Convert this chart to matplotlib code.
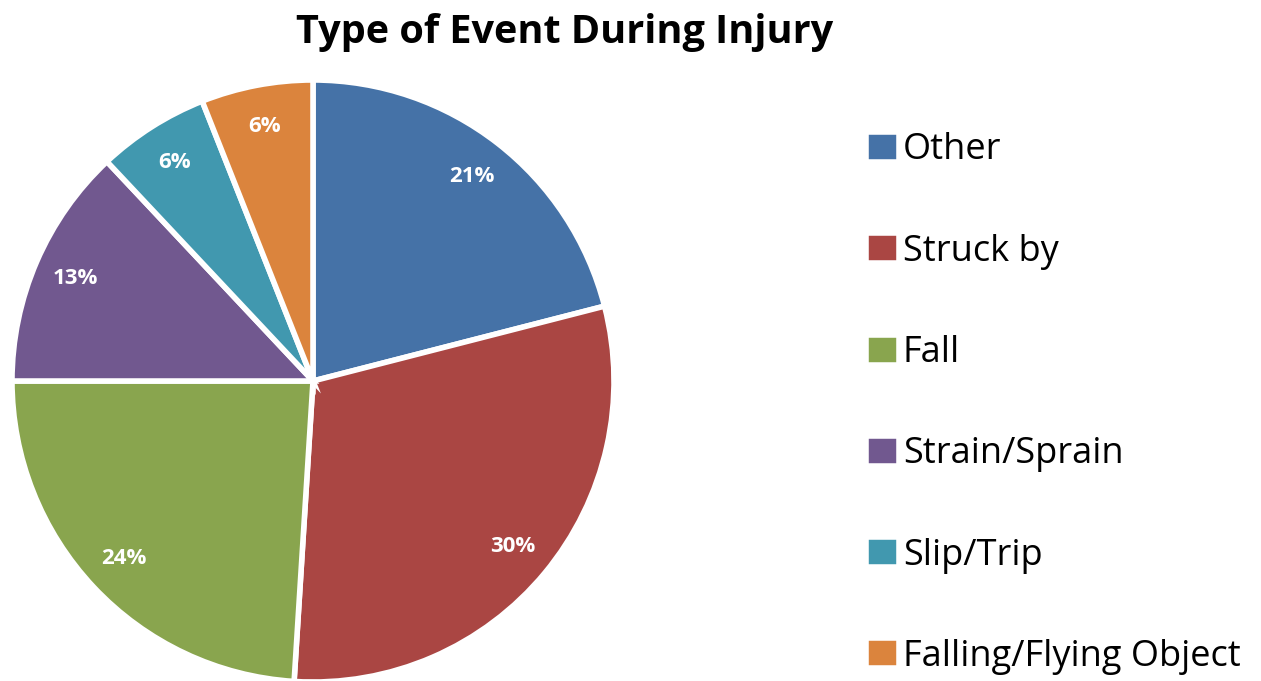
import matplotlib.pyplot as plt

# data
categories = ['Other', 'Struck by', 'Fall', 'Strain/Sprain', 'Slip/Trip', 'Falling/Flying Object']
shares = [21, 30, 24, 13, 6, 6]
colors = ['#4572A7', '#AA4643', '#89A54E', '#71588F', '#4198AF', '#DB843D']

plt.rcParams['font.family'] = ['Open Sans', 'DejaVu Sans']

fig = plt.figure(figsize=(12.61, 6.81), dpi=100)
W, H = 1261, 681
cx, cy, r = 313, 381, 301
ax = fig.add_axes([(cx - r) / W, (H - cy - r) / H, 2 * r / W, 2 * r / H])

wedges, texts, autotexts = ax.pie(
    shares, colors=colors, startangle=90, counterclock=False,
    autopct='%d%%', pctdistance=0.86, radius=1,
    wedgeprops=dict(edgecolor='white', linewidth=4),
    textprops=dict(color='white', fontsize=16, fontweight='bold'))
ax.set_xlim(-1.0, 1.0)
ax.set_ylim(-1.0, 1.0)
ax.axis('off')

fig.text(565 / W, 1 - 32 / H, 'Type of Event During Injury', ha='center', va='center',
         fontsize=28.5, fontweight='bold')

fig.legend(wedges, categories, loc='upper left', bbox_to_anchor=(866 / W, 1 - 132 / H),
           frameon=False, fontsize=26, labelspacing=1.795, handlelength=0.9,
           handleheight=0.9, handletextpad=0.12, borderpad=0, borderaxespad=0)

fig.savefig('out.png', dpi=100)
